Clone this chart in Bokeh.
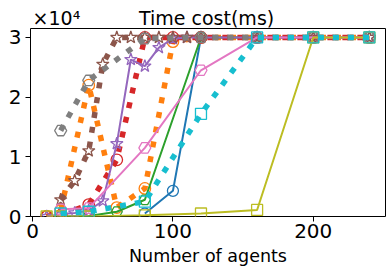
from bokeh.plotting import figure
from bokeh.models import Range1d, FixedTicker, LinearAxis
from bokeh.embed import file_html
from bokeh.resources import INLINE

FONT = "DejaVu Sans"

# ---- data (time cost in ms) ----
blue_x = [80, 100, 120, 160, 200, 240]
blue_y = [500, 4300, 30000, 30000, 30000, 30000]

orange_x = [10, 20, 40, 60, 80, 100, 120, 160, 200, 240]
orange_y = [0, 1000, 22000, 1500, 4700, 29300, 30000, 30000, 30000, 30000]

green_x = [20, 40, 60, 80, 120, 160, 200, 240]
green_y = [0, 100, 800, 2800, 30000, 30000, 30000, 30000]

red_x = [10, 20, 40, 60, 80, 100, 120, 160, 200, 240]
red_y = [0, 200, 2000, 9500, 30000, 30000, 30000, 30000, 30000, 30000]

purple_x = [10, 20, 30, 40, 50, 60, 70, 80, 90, 100, 110, 120, 160, 200, 240]
purple_y = [0, 400, 600, 1000, 2600, 12200, 26300, 25200, 28300, 29800, 30000, 30000, 30000, 30000, 30000]

brown_x = [20, 30, 40, 50, 60, 70, 80, 90, 100, 110, 120, 160, 200, 240]
brown_y = [2800, 6000, 11000, 25500, 30000, 30000, 30000, 30000, 30000, 30000, 30000, 30000, 30000, 30000]

pink_x = [20, 40, 80, 120, 160, 200, 240]
pink_y = [1200, 1400, 11500, 24500, 30000, 30000, 30000]

gray_x = [20, 40, 80, 120, 160, 200, 240]
gray_y = [14400, 22800, 29800, 30000, 30000, 30000, 30000]

olive_x = [10, 20, 40, 80, 120, 160, 200, 240]
olive_y = [0, 0, 0, 200, 500, 1100, 30000, 30000]

cyan_x = [20, 40, 80, 120, 160, 200, 240]
cyan_y = [500, 800, 2500, 17200, 30000, 30000, 30000]

x_ticks = [0, 100, 200]
y_ticks = [0, 10000, 20000, 30000]
y_tick_labels = ["0", "1", "2", "3"]

title_text = "Time cost(ms)"
offset_text = "×10⁴"
x_label_text = "Number of agents"

series = [
    (blue_x, blue_y, "#1f77b4", "solid", "circle", 11),
    (orange_x, orange_y, "#ff7f0e", "dotted", "circle", 11.5),
    (green_x, green_y, "#2ca02c", "solid", "hex", 11),
    (red_x, red_y, "#d62728", "dotted", "circle", 11.5),
    (purple_x, purple_y, "#9467bd", "solid", "star", 13),
    (brown_x, brown_y, "#8c564b", "dotted", "star", 13),
    (pink_x, pink_y, "#e377c2", "solid", "hex", 12),
    (gray_x, gray_y, "#7f7f7f", "dotted", "hex", 12),
    (olive_x, olive_y, "#bcbd22", "solid", "square", 11),
    (cyan_x, cyan_y, "#17becf", "dotted", "square", 11),
]

p = figure(width=392, height=273, output_backend="svg", toolbar_location=None,
           x_range=Range1d(-1.5, 251.5), y_range=Range1d(0, 31500),
           min_border_left=30, min_border_right=7, min_border_top=28,
           min_border_bottom=57)
p.title.visible = False
p.grid.visible = False
p.background_fill_color = "white"
p.border_fill_color = "white"
p.outline_line_color = "black"
p.outline_line_width = 1
p.outline_line_alpha = 1

for ax in (p.xaxis[0], p.yaxis[0]):
    ax.axis_line_color = None
    ax.major_tick_out = 5
    ax.major_tick_in = 0
    ax.minor_tick_out = 0
    ax.minor_tick_in = 0
    ax.major_tick_line_color = "black"
    ax.major_label_text_font = FONT
    ax.major_label_text_font_size = "20px"
    ax.major_label_text_color = "black"

p.xaxis[0].major_label_standoff = 2
p.yaxis[0].major_label_standoff = 4
p.xaxis[0].axis_label = x_label_text
p.xaxis[0].axis_label_text_font = FONT
p.xaxis[0].axis_label_text_font_size = "17.5px"
p.xaxis[0].axis_label_text_font_style = "normal"
p.xaxis[0].axis_label_text_color = "black"
p.xaxis[0].axis_label_standoff = 5

p.xaxis[0].ticker = FixedTicker(ticks=x_ticks)
p.yaxis[0].ticker = FixedTicker(ticks=y_ticks)
p.yaxis[0].major_label_overrides = {t: l for t, l in zip(y_ticks, y_tick_labels)}

# top axis used only to carry the offset text and the title (no ticks, no line)
top_positions = [17, 124]
top = LinearAxis(ticker=FixedTicker(ticks=top_positions),
                 major_label_overrides={top_positions[0]: offset_text,
                                        top_positions[1]: title_text})
top.axis_line_color = None
top.major_tick_line_color = None
top.major_tick_out = 0
top.major_tick_in = 0
top.minor_tick_out = 0
top.minor_tick_in = 0
top.major_label_standoff = 0
top.major_label_text_font = FONT
top.major_label_text_font_size = "19px"
top.major_label_text_color = "black"
p.add_layout(top, "above")

for xs, ys, c, style, mk, sz in series:
    if style == "solid":
        p.line(xs, ys, line_color=c, line_width=2)
    else:
        p.line(xs, ys, line_color=c, line_width=5.5, line_dash="6 9")
    p.scatter(xs, ys, marker=mk, size=sz, fill_color=None, line_color=c, line_width=1.3)

open("out.html", "w").write(file_html(p, INLINE))
